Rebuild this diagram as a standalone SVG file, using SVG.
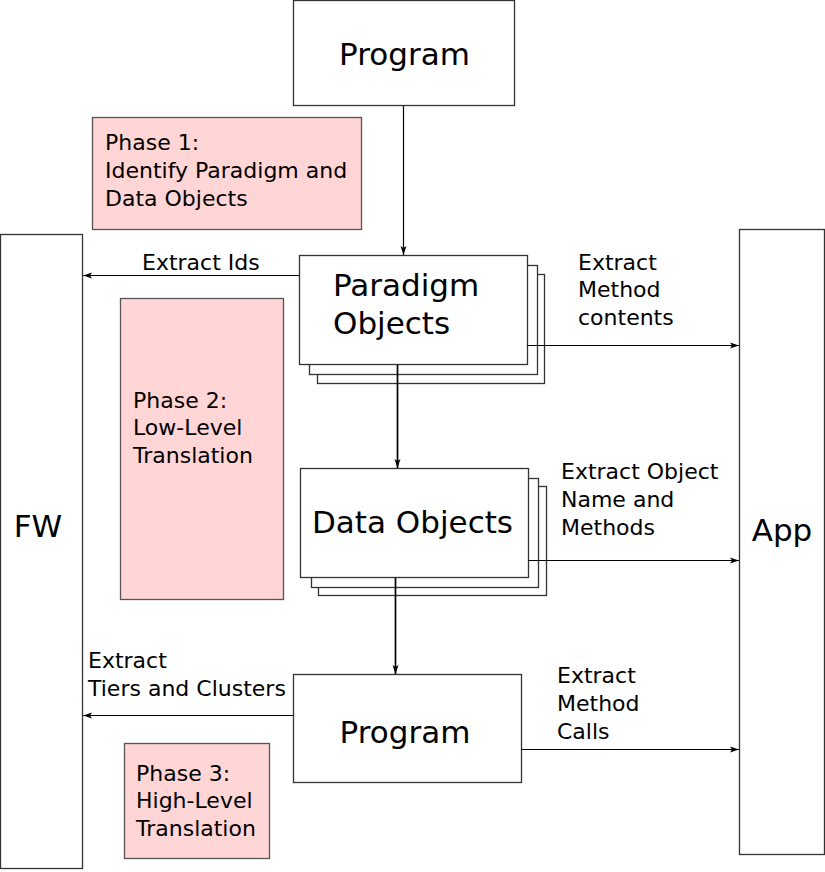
<svg xmlns="http://www.w3.org/2000/svg" width="825" height="872" viewBox="0 0 825 872">
<defs>
<marker id="ah" markerWidth="10" markerHeight="8" refX="9" refY="4" orient="auto" markerUnits="userSpaceOnUse">
<path d="M0,1 L9,4 L0,7 L2,4 Z" fill="#000"/>
</marker>
<style>
.box{fill:#fff;stroke:#333;stroke-width:1.3}
.phase{fill:#ffd5d5;stroke:#555;stroke-width:1.3}
.big{font-family:"DejaVu Sans",sans-serif;font-size:31px;fill:#000}
.sm{font-family:"DejaVu Sans",sans-serif;font-size:22px;fill:#000}
.conn{stroke:#000;stroke-width:1.2;fill:none;marker-end:url(#ah)}
.thick{stroke-width:1.7}
</style>
</defs>
<rect width="825" height="872" fill="#fff"/>

<g id="program-top">
<rect class="box" x="293.5" y="0.5" width="221" height="105"/>
<text class="big" x="404.5" y="65" text-anchor="middle">Program</text>
</g>

<g id="phase1">
<rect class="phase" x="92.5" y="117.5" width="269" height="112"/>
<text class="sm" x="105" y="150">Phase 1:</text>
<text class="sm" x="105" y="178">Identify Paradigm and</text>
<text class="sm" x="105" y="206">Data Objects</text>
</g>

<g id="fw">
<rect class="box" x="0.5" y="234.5" width="82" height="634"/>
<text class="big" x="38" y="537" text-anchor="middle">FW</text>
</g>

<g id="app">
<rect class="box" x="739.5" y="229.5" width="85" height="625"/>
<text class="big" x="782" y="541" text-anchor="middle">App</text>
</g>

<g id="phase2">
<rect class="phase" x="120.5" y="298.5" width="163" height="301"/>
<text class="sm" x="133" y="408">Phase 2:</text>
<text class="sm" x="133" y="435">Low-Level</text>
<text class="sm" x="133" y="463">Translation</text>
</g>

<g id="paradigm-objects">
<rect class="box" x="317.5" y="274.5" width="227" height="109"/>
<rect class="box" x="309.5" y="265.5" width="228" height="109"/>
<rect class="box" x="299.5" y="255.5" width="228" height="109"/>
<text class="big" x="333" y="296">Paradigm</text>
<text class="big" x="333" y="334">Objects</text>
</g>

<g id="data-objects">
<rect class="box" x="318.5" y="486.5" width="228" height="109"/>
<rect class="box" x="311.5" y="478.5" width="227" height="109"/>
<rect class="box" x="300.5" y="468.5" width="228" height="109"/>
<text class="big" x="312" y="533">Data Objects</text>
</g>

<g id="program-bottom">
<rect class="box" x="293.5" y="674.5" width="228" height="108"/>
<text class="big" x="405" y="743" text-anchor="middle">Program</text>
</g>

<g id="phase3">
<rect class="phase" x="124.5" y="743.5" width="145" height="115"/>
<text class="sm" x="136" y="781">Phase 3:</text>
<text class="sm" x="136" y="808">High-Level</text>
<text class="sm" x="136" y="836">Translation</text>
</g>

<g id="connectors">
<line class="conn" x1="403.5" y1="106" x2="403.5" y2="255"/>
<line class="conn thick" x1="397.5" y1="365" x2="397.5" y2="468"/>
<line class="conn thick" x1="395.5" y1="578" x2="395.5" y2="674"/>
<line class="conn" x1="299" y1="275.5" x2="83" y2="275.5"/>
<line class="conn" x1="293" y1="715.5" x2="83" y2="715.5"/>
<line class="conn" x1="527" y1="345.5" x2="739" y2="345.5"/>
<line class="conn" x1="528" y1="560.5" x2="739" y2="560.5"/>
<line class="conn" x1="521" y1="749.5" x2="739" y2="749.5"/>
<text class="sm" x="142" y="270">Extract Ids</text>
<text class="sm" x="578" y="270">Extract</text>
<text class="sm" x="578" y="297">Method</text>
<text class="sm" x="578" y="325">contents</text>
<text class="sm" x="561" y="479">Extract Object</text>
<text class="sm" x="561" y="507">Name and</text>
<text class="sm" x="561" y="535">Methods</text>
<text class="sm" x="88" y="668">Extract</text>
<text class="sm" x="88" y="696">Tiers and Clusters</text>
<text class="sm" x="557" y="683">Extract</text>
<text class="sm" x="557" y="711">Method</text>
<text class="sm" x="557" y="739">Calls</text>
</g>
</svg>
